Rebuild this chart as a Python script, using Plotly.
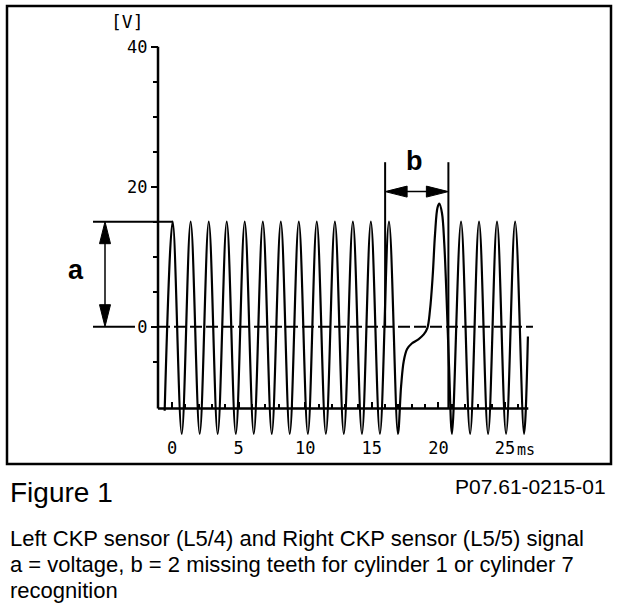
import plotly.graph_objects as go

# signal: time in ms, voltage in V
lead_t = [-0.55]
lead_v = [-12.0]
teeth1_t = [0.05, 0.73, 1.40, 2.08, 2.76, 3.43, 4.11, 4.79, 5.46, 6.14, 6.82, 7.49, 8.17,
            8.84, 9.52, 10.20, 10.87, 11.55, 12.23, 12.90, 13.58, 14.26, 14.93, 15.61,
            16.29, 16.96]
teeth1_v = [15, -15.3, 15, -15.3, 15, -15.3, 15, -15.3, 15, -15.3, 15, -15.3, 15,
            -15.3, 15, -15.3, 15, -15.3, 15, -15.3, 15, -15.3, 15, -15.3,
            15, -15.3]
gap_t = [17.20, 17.40, 17.65, 18.00, 18.50, 18.90, 19.17, 19.37, 19.57, 19.75, 19.93,
         20.07, 20.27, 20.44, 20.62, 20.80, 21.02]
gap_v = [-8.5, -4.9, -3.2, -2.4, -1.8, -1.1, -0.2, 2.4, 7.2, 13.3, 17.0,
         17.6, 16.2, 11.9, 3.8, -5.7, -15.3]
teeth2_t = [21.70, 22.38, 23.05, 23.73, 24.40, 25.08, 25.76, 26.43, 26.72]
teeth2_v = [15, -15.3, 15, -15.3, 15, -15.3, 15, -15.3, -1.4]

x_ticks = [0, 5, 10, 15, 20, 25]
x_minor = [1, 2, 3, 4, 6, 7, 8, 9, 11, 12, 13, 14, 16, 17, 18, 19, 21, 22, 23, 24, 26]
y_ticks = [0, 20, 40]
y_minor = [-5, 5, 10, 15, 25, 30, 35]

peak_v = 15          # "a" voltage marker
gap_start = 16.0     # "b" missing teeth window
gap_end = 20.75

wave_t = lead_t + teeth1_t + gap_t + teeth2_t
wave_v = lead_v + teeth1_v + gap_v + teeth2_v

W, H = 640, 610
SX, SY = 13.32, 7.0      # px per ms, px per V
X0, Y0 = 172, 326.7      # px of t=0, v=0
x_lo, x_hi = -X0 / SX, (W - X0) / SX
y_lo, y_hi = (Y0 - H) / SY, Y0 / SY
ax_t, ax_v = -1.05, -11.7   # where the drawn axes sit
ax_top = 40


def px(x, y):
    return x / W, 1 - y / H


def head(t, v, d, length=22, half=5.5):
    # filled arrowhead, tip at (t, v), d in 'up','down','left','right'
    if d in ("up", "down"):
        s = -1 if d == "up" else 1
        bv = v + s * length / SY
        hw = half / SX
        p = f"M{t},{v} L{t - hw},{bv} L{t + hw},{bv} Z"
    else:
        s = 1 if d == "left" else -1
        bt = t + s * length / SX
        hh = half / SY
        p = f"M{t},{v} L{bt},{v - hh} L{bt},{v + hh} Z"
    return dict(type="path", path=p, xref="x", yref="y", fillcolor="black",
                line=dict(color="black", width=1))


def seg(x0, y0, x1, y1, w=2, dash="solid"):
    return dict(type="line", x0=x0, y0=y0, x1=x1, y1=y1, xref="x", yref="y",
                line=dict(color="black", width=w, dash=dash))


fig = go.Figure()
fig.add_trace(go.Scatter(x=wave_t, y=wave_v, mode="lines",
                         line=dict(color="black", width=2.2, shape="spline", smoothing=1),
                         hoverinfo="skip"))

shapes = []
fx0, fy0 = px(7, 6)
fx1, fy1 = px(611, 464)
shapes.append(dict(type="rect", xref="paper", yref="paper", x0=fx0, y0=fy1, x1=fx1, y1=fy0,
                   line=dict(color="black", width=2.5)))
shapes.append(seg(ax_t, ax_v, ax_t, ax_top, w=2.5))
shapes.append(seg(ax_t, ax_v, 26.75, ax_v, w=2.5))
shapes.append(seg(ax_t, 0, 27.1, 0, w=2, dash="12px,4px"))
# a marker
shapes.append(seg(-5.93, peak_v, 0.05, peak_v, w=2))
shapes.append(seg(-5.93, 0, -2.78, 0, w=2))
shapes.append(seg(-5.03, 0.5, -5.03, peak_v - 0.5, w=1.5))
shapes.append(head(-5.03, peak_v, "up"))
shapes.append(head(-5.03, 0, "down"))
# b marker
shapes.append(seg(gap_start, 23.5, gap_start, 0, w=2))
shapes.append(seg(gap_end, 23.5, gap_end, ax_v, w=2))
shapes.append(seg(gap_start + 0.3, 19.3, gap_end - 0.3, 19.3, w=1.5))
shapes.append(head(gap_start, 19.3, "left"))
shapes.append(head(gap_end, 19.3, "right"))

mono = "DejaVu Sans Mono"
sans = "Liberation Sans, Arial, sans-serif"


def note(text, x, y, size, family=sans, xanchor="center", bold=False):
    xp, yp = px(x, y)
    if bold:
        text = f"<b>{text}</b>"
    return dict(text=text, x=xp, y=yp, xref="paper", yref="paper", showarrow=False,
                xanchor=xanchor, yanchor="middle", font=dict(family=family, size=size, color="black"))


annotations = [
    note("[V]", 127, 22, 18, family=mono),
    note("ms", 526, 450, 15, family=mono),
    note("a", 76, 270, 27, bold=True),
    note("b", 414, 161, 27, bold=True),
    note("Figure 1", 8, 492, 28, xanchor="left"),
    note("P07.61-0215-01", 608, 486, 21, xanchor="right"),
    note("Left CKP sensor (L5/4) and Right CKP sensor (L5/5) signal", 8, 538, 22, xanchor="left"),
    note("a = voltage, b = 2 missing teeth for cylinder 1 or cylinder 7", 8, 564, 22, xanchor="left"),
    note("recognition", 8, 590, 22, xanchor="left"),
]

fig.update_layout(
    width=W, height=H, margin=dict(l=0, r=0, t=0, b=0),
    paper_bgcolor="white", plot_bgcolor="white", showlegend=False,
    shapes=shapes, annotations=annotations,
    xaxis=dict(range=[x_lo, x_hi], anchor="free", position=1 - 408 / H, side="bottom",
               showgrid=False, zeroline=False, showline=False, automargin=False,
               tickvals=x_ticks, ticktext=[str(v) for v in x_ticks],
               ticks="inside", ticklen=6, tickwidth=2, tickcolor="black",
               minor=dict(tickvals=x_minor, ticks="inside", ticklen=4, tickwidth=2, tickcolor="black"),
               ticklabelstandoff=28, tickfont=dict(family=mono, size=17, color="black")),
    yaxis=dict(range=[y_lo, y_hi], anchor="free", position=158 / W, side="left",
               showgrid=False, zeroline=False, showline=False, automargin=False,
               tickvals=y_ticks, ticktext=[str(v) for v in y_ticks],
               ticks="outside", ticklen=7, tickwidth=2, tickcolor="black",
               minor=dict(tickvals=y_minor, ticks="outside", ticklen=5, tickwidth=2, tickcolor="black"),
               tickfont=dict(family=mono, size=17, color="black")),
)

fig.write_html("out.html", config={"displayModeBar": False},
               post_script="document.body.style.margin='0';")
